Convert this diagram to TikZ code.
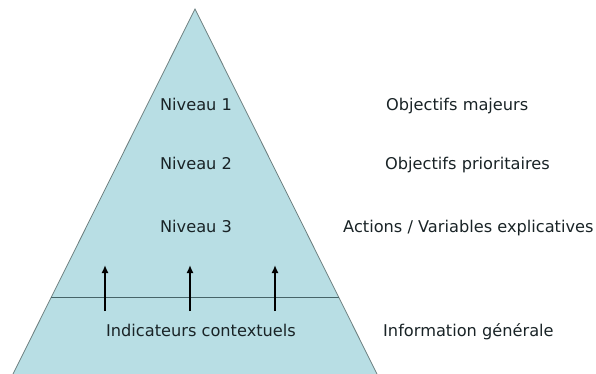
\documentclass[tikz,border=0pt]{standalone}
\usepackage{fontspec}
\setmainfont{DejaVu Sans}
\usetikzlibrary{arrows.meta,calc}
\definecolor{pyrfill}{RGB}{184,222,228}
\definecolor{pyredge}{RGB}{110,128,128}
\definecolor{sepline}{RGB}{70,100,104}
\definecolor{txt}{RGB}{25,35,38}
\tikzset{
  lbl/.style={inner sep=0pt, text=txt, font=\fontsize{16.2}{19}\selectfont, anchor=base},
  rlbl/.style={lbl, anchor=base west},
  uparrow/.style={line width=2.2pt, black, -{Latex[length=8pt,width=7pt]}},
}
\begin{document}
\begin{tikzpicture}[x=1pt,y=-1pt]
\useasboundingbox (0,0) rectangle (596,374);
\coordinate (apex) at (195,9);
\coordinate (bl) at (13,374);
\coordinate (br) at (377,374);
\fill[pyrfill] (apex) -- (bl) -- (br) -- cycle;
\draw[pyredge, line width=0.8pt] (bl) -- (apex) -- (br);
\coordinate (sl) at ($(apex)!0.789!(bl)$);
\coordinate (sr) at ($(apex)!0.789!(br)$);
\draw[sepline, line width=0.7pt] (sl) -- (sr);
% arrows
\foreach \i/\x in {1/105,2/190,3/275}{
  \coordinate (a\i) at (\x,311);
  \coordinate (b\i) at (\x,265);
  \draw[uparrow] (a\i) -- (b\i);
}
% labels inside
\node[lbl] (n1) at (196,111) {Niveau 1};
\node[lbl] (n2) at (196,169) {Niveau 2};
\node[lbl] (n3) at (196,232) {Niveau 3};
\node[lbl] (ic) at (201,336) {Indicateurs contextuels};
% labels right
\node[rlbl] (r1) at (386,111) {Objectifs majeurs};
\node[rlbl] (r2) at (385,169) {Objectifs prioritaires};
\node[rlbl] (r3) at (343,232) {Actions / Variables explicatives};
\node[rlbl] (r4) at (383,336) {Information générale};
\end{tikzpicture}
\end{document}
